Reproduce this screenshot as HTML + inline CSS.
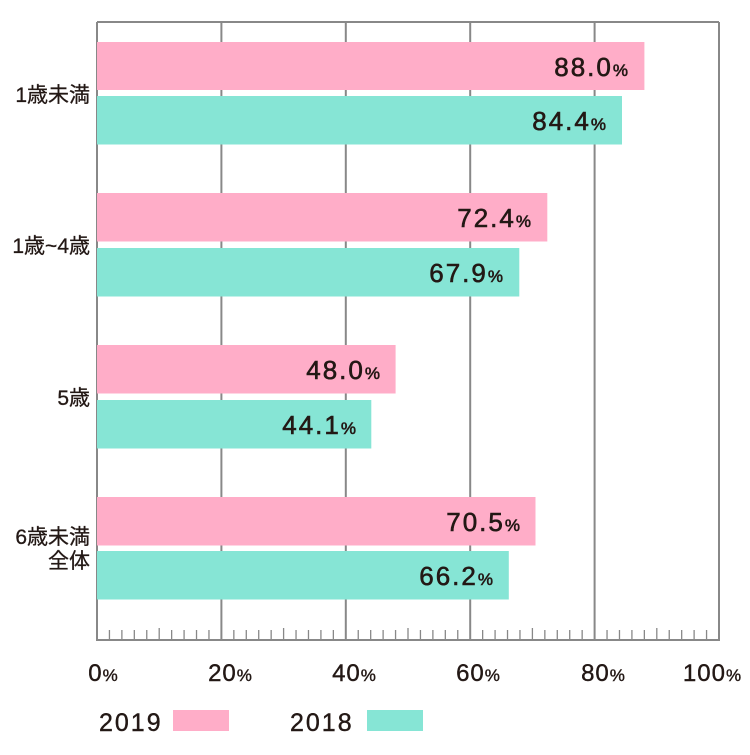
<!DOCTYPE html>
<html><head><meta charset="utf-8"><style>
body{margin:0;background:#fff}
svg text{font-family:"Liberation Sans","Noto Sans CJK JP",sans-serif;fill:#231815}
</style></head><body>
<svg width="750" height="750" xmlns="http://www.w3.org/2000/svg">
<g stroke="#888" stroke-width="2">
<line x1="97" y1="22" x2="719" y2="22"/>
<line x1="97" y1="22" x2="97" y2="640"/>
<line x1="221.4" y1="22" x2="221.4" y2="640"/>
<line x1="345.8" y1="22" x2="345.8" y2="640"/>
<line x1="470.2" y1="22" x2="470.2" y2="640"/>
<line x1="594.6" y1="22" x2="594.6" y2="640"/>
<line x1="719" y1="22" x2="719" y2="640"/>
<line x1="96" y1="640" x2="720" y2="640"/>
</g>
<g stroke="#888" stroke-width="1.3" id="ticks"></g>
<g>
<rect x="97" y="42" width="547.4" height="48" fill="#FFADC8"/>
<rect x="97" y="96" width="525" height="48.5" fill="#86E5D5"/>
<rect x="97" y="193" width="450.3" height="48.5" fill="#FFADC8"/>
<rect x="97" y="248" width="422.3" height="48.5" fill="#86E5D5"/>
<rect x="97" y="345" width="298.6" height="48.5" fill="#FFADC8"/>
<rect x="97" y="400" width="274.3" height="48.5" fill="#86E5D5"/>
<rect x="97" y="497" width="438.5" height="48.5" fill="#FFADC8"/>
<rect x="97" y="551" width="411.8" height="48.5" fill="#86E5D5"/>
</g>
<g font-size="26" text-anchor="end" letter-spacing="2" stroke="#231815" stroke-width="0.6">
<text x="628" y="76">88.0<tspan font-size="17" letter-spacing="0">%</tspan></text>
<text x="606" y="130">84.4<tspan font-size="17" letter-spacing="0">%</tspan></text>
<text x="531" y="227">72.4<tspan font-size="17" letter-spacing="0">%</tspan></text>
<text x="503" y="282">67.9<tspan font-size="17" letter-spacing="0">%</tspan></text>
<text x="380" y="379">48.0<tspan font-size="17" letter-spacing="0">%</tspan></text>
<text x="356" y="434">44.1<tspan font-size="17" letter-spacing="0">%</tspan></text>
<text x="520" y="531">70.5<tspan font-size="17" letter-spacing="0">%</tspan></text>
<text x="493" y="585">66.2<tspan font-size="17" letter-spacing="0">%</tspan></text>
</g>
<g font-size="21" text-anchor="end" stroke="#231815" stroke-width="0.3">
<text x="90" y="102">1歳未満</text>
<text x="90" y="253">1歳~4歳</text>
<text x="90" y="405">5歳</text>
<text x="90" y="544">6歳未満</text>
<text x="90" y="568">全体</text>
</g>
<g font-size="24" text-anchor="middle" letter-spacing="1" stroke="#231815" stroke-width="0.4">
<text x="103" y="681">0<tspan font-size="17" letter-spacing="0">%</tspan></text>
<text x="230" y="681">20<tspan font-size="17" letter-spacing="0">%</tspan></text>
<text x="354" y="681">40<tspan font-size="17" letter-spacing="0">%</tspan></text>
<text x="478" y="681">60<tspan font-size="17" letter-spacing="0">%</tspan></text>
<text x="603" y="681">80<tspan font-size="17" letter-spacing="0">%</tspan></text>
<text x="712" y="681">100<tspan font-size="17" letter-spacing="0">%</tspan></text>
</g>
<g font-size="25" letter-spacing="2" stroke="#231815" stroke-width="0.4">
<text x="99" y="731">2019</text>
<text x="290" y="731">2018</text>
</g>
<rect x="173" y="710" width="56" height="21" fill="#FFADC8"/>
<rect x="367" y="710" width="56" height="21" fill="#86E5D5"/>
<script>
var g=document.getElementById('ticks');
for(var i=1;i<50;i++){if(i%10==0)continue;var x=97+i*12.44;
var l=document.createElementNS('http://www.w3.org/2000/svg','line');
l.setAttribute('x1',x);l.setAttribute('x2',x);l.setAttribute('y1',i%5==0?628:630);l.setAttribute('y2',640);g.appendChild(l);}
</script>
</svg>
</body></html>
